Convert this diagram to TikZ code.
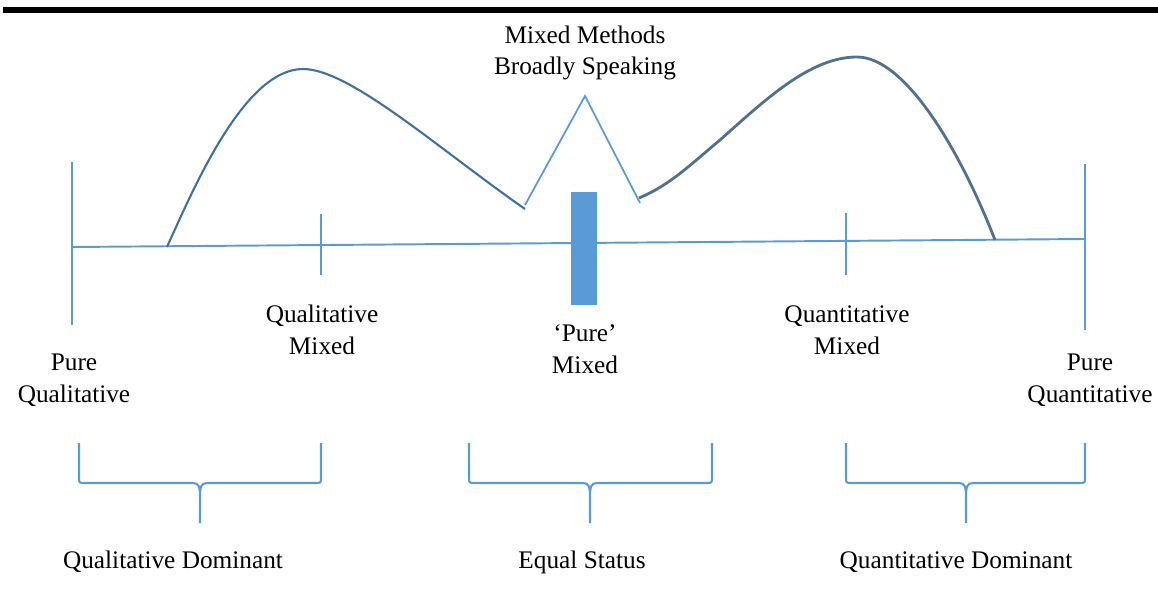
\documentclass[tikz,border=0pt]{standalone}
\usepackage{fontspec}
\setmainfont{Liberation Serif}
\definecolor{scaleblue}{HTML}{5B9BD5}
\definecolor{curveblue}{HTML}{41719C}
\definecolor{curvegrey}{HTML}{52718F}

\begin{document}
\begin{tikzpicture}[x=0.02cm, y=-0.02cm,
  axis/.style={scaleblue, line width=1.1pt},
  hump/.style={curveblue, line width=1.2pt},
  grp/.style={scaleblue, line width=1.2pt},
  lbl/.style={font=\fontsize{14.4}{18.1}\selectfont, align=center, inner sep=0pt}]

  \useasboundingbox (0,0) rectangle (1158,588);

  %--- Rule at the top of the page
  \fill[black] (3,7) rectangle (1158,13);

  %--- The continuum and its ticks
  \coordinate (qlend) at (72,247);
  \coordinate (qnend) at (1085,239);
  \draw[axis] (qlend) -- (qnend);
  \draw[axis] (72,162) -- (72,325);
  \draw[axis] (1085,164) -- (1085,330);
  \draw[axis] (321,214) -- (321,275);
  \draw[axis] (846,213) -- (846,275);
  \fill[scaleblue] (571,192) rectangle (597,305);

  %--- Humps for the two sides, peak in the middle
  \draw[hump] (167,247) .. controls (195,185) and (245,69) .. (303,69)
    .. controls (350,69) and (440,150) .. (525,209);
  \draw[curvegrey, line width=1.6pt] (639,198) .. controls (670,185) and (690,165) .. (720,140)
    .. controls (765,100) and (810,57) .. (857,57)
    .. controls (905,57) and (960,150) .. (995,240);
  \draw[scaleblue, line width=1pt] (525,205) -- (585,96) -- (640,203);

  %--- Labels along the continuum
  \node[lbl] (broad) at (585,53) {Mixed Methods\\Broadly Speaking};
  \node[lbl] (pureql) at (74,380) {Pure\\Qualitative};
  \node[lbl] (qlmix) at (322,330) {Qualitative\\Mixed};
  \node[lbl] (puremix) at (585,349) {‘Pure’\\Mixed};
  \node[lbl] (qnmix) at (847,330) {Quantitative\\Mixed};
  \node[lbl] (pureqn) at (1090,380) {Pure\\Quantitative};

  %--- Grouping brackets
  \foreach \xa/\xm/\xb in {79/200/321, 469/590/712, 846/966/1085}
    \draw[grp] (\xa,443) -- (\xa,477) .. controls (\xa,483) .. (\xa+6,483)
      -- (\xm-7,483) .. controls (\xm-1,483) and (\xm,487) .. (\xm,497) -- (\xm,523)
      (\xm,497) .. controls (\xm,487) and (\xm+1,483) .. (\xm+7,483)
      -- (\xb-6,483) .. controls (\xb,483) .. (\xb,477) -- (\xb,443);

  \node[lbl] (qldom) at (173,562) {Qualitative Dominant};
  \node[lbl] (equal) at (582,562) {Equal Status};
  \node[lbl] (qndom) at (956,562) {Quantitative Dominant};

\end{tikzpicture}
\end{document}
